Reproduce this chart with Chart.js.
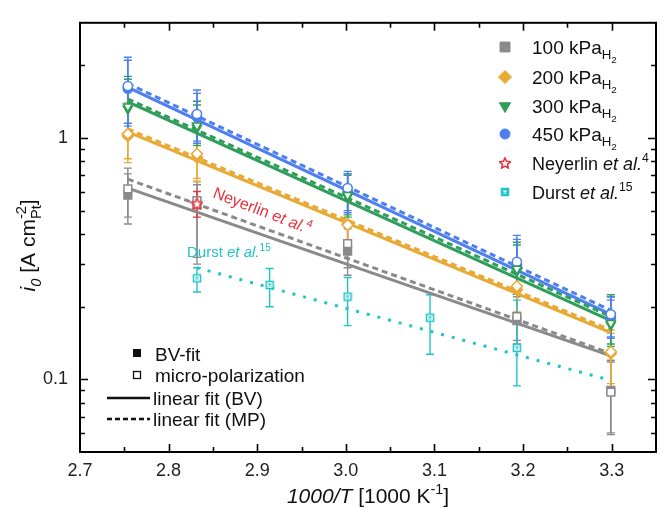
<!DOCTYPE html>
<html><head><meta charset="utf-8">
<script src="https://cdn.jsdelivr.net/npm/chart.js@4/dist/chart.umd.min.js"></script>
<style>html,body{margin:0;padding:0;background:#fff}#wrap{width:664px;height:508px}</style>
</head><body><div id="wrap"><canvas id="c" width="664" height="508"></canvas></div>
<script>
// ---------- data ----------
const invT = [2.754, 2.832, 3.002, 3.193, 3.299];
const fitX = [2.754, 3.299];

const p100BV = [0.58, 0.53, 0.34, 0.175, 0.090];
const p100MP = [0.615, 0.55, 0.365, 0.182, 0.0886];
const p100BVhi = [0.71, 0.64, 0.42, 0.22, 0.118];
const p100BVlo = [0.47, 0.32, 0.27, 0.14, 0.060];
const p100MPhi = [0.75, 0.66, 0.44, 0.23, 0.120];
const p100MPlo = [0.44, 0.30, 0.29, 0.145, 0.059];

const p200BV = [1.02, 0.83, 0.44, 0.235, 0.128];
const p200MP = [1.04, 0.86, 0.436, 0.243, 0.130];
const p200BVhi = [1.35, 1.10, 0.55, 0.30, 0.155];
const p200BVlo = [0.82, 0.68, 0.36, 0.19, 0.096];
const p200MPhi = [1.40, 1.15, 0.56, 0.31, 0.160];
const p200MPlo = [0.79, 0.66, 0.35, 0.185, 0.093];

const p300BV = [1.32, 1.10, 0.57, 0.28, 0.168];
const p300MP = [1.35, 1.126, 0.58, 0.287, 0.171];
const p300BVhi = [1.75, 1.37, 0.70, 0.36, 0.220];
const p300BVlo = [1.00, 0.95, 0.48, 0.23, 0.140];
const p300MPhi = [1.80, 1.42, 0.71, 0.37, 0.224];
const p300MPlo = [1.00, 0.93, 0.47, 0.225, 0.137];

const p450BV = [1.60, 1.22, 0.60, 0.30, 0.180];
const p450MP = [1.64, 1.256, 0.62, 0.307, 0.186];
const p450BVhi = [2.10, 1.53, 0.71, 0.38, 0.213];
const p450BVlo = [1.15, 0.97, 0.50, 0.23, 0.150];
const p450MPhi = [2.16, 1.58, 0.727, 0.395, 0.220];
const p450MPlo = [1.12, 0.95, 0.49, 0.225, 0.148];

const fit100BV = [0.62, 0.125], fit100MP = [0.675, 0.128];
const fit200BV = [1.06, 0.156], fit200MP = [1.09, 0.160];
const fit300BV = [1.41, 0.175], fit300MP = [1.45, 0.182];
const fit450BV = [1.62, 0.186], fit450MP = [1.68, 0.193];

const neyX = [2.832], neyY = [0.534], neyHi = [0.60], neyLo = [0.47];

const durstX = [2.832, 2.914, 3.002, 3.095, 3.193];
const durstY = [0.262, 0.246, 0.220, 0.180, 0.135];
const durstHi = [0.290, 0.288, 0.264, 0.224, 0.213];
const durstLo = [0.230, 0.200, 0.167, 0.127, 0.094];
const durstFitX = [2.832, 3.299];
const durstFitY = [0.290, 0.099];

const xTickVals = [2.7,2.75,2.8,2.85,2.9,2.95,3.0,3.05,3.1,3.15,3.2,3.25,3.3,3.35];
const yTickVals = [0.06,0.07,0.08,0.09,0.1,0.2,0.3,0.4,0.5,0.6,0.7,0.8,0.9,1,2,3];
const yLabelVals = [0.1, 1];

// ---------- styles ----------
const C = {g:'#8a8a8a', o:'#e9a935', gr:'#2e9e5a', b:'#4d7ef2', r:'#e8323c', cy:'#22c4c6'};
const FONT = '"Liberation Sans", Arial, sans-serif';

function makeStar(color, size){
  const c=document.createElement('canvas'); c.width=c.height=size; const g=c.getContext('2d');
  g.strokeStyle=color; g.lineWidth=1.6; g.fillStyle='#fff'; g.beginPath();
  for(let i=0;i<10;i++){const r=i%2? size*0.22: size*0.46; const a=-Math.PI/2+i*Math.PI/5;
    const x=size/2+r*Math.cos(a), y=size/2+r*Math.sin(a)+size*0.04; i?g.lineTo(x,y):g.moveTo(x,y);}
  g.closePath(); g.fill(); g.stroke(); return c;
}
function makeXSq(color, size, filled){
  const c=document.createElement('canvas'); c.width=c.height=size; const g=c.getContext('2d');
  g.strokeStyle=color; g.lineWidth=1.5; g.fillStyle= filled?color:'#fff';
  g.fillRect(1,1,size-2,size-2); g.strokeRect(1.5,1.5,size-3,size-3);
  g.strokeStyle = filled?'#fff':color;
  g.lineWidth=1.2; g.beginPath(); g.moveTo(3.5,3.5); g.lineTo(size-3.5,size-3.5); g.moveTo(size-3.5,3.5); g.lineTo(3.5,size-3.5); g.stroke();
  return c;
}
const starImg = makeStar(C.r, 13);
const xsqImg = makeXSq(C.cy, 10, false);
const starImgL = makeStar(C.r, 12);
const xsqImgL = makeXSq(C.cy, 10, true);

const pts = (xs, ys) => xs.map((x,i)=>({x, y:ys[i]}));

function scat(vals, color, style, open, hi, lo, rot){
  return {type:'scatter', data:pts(invT, vals), pointStyle:style, rotation:rot||0,
    pointRadius: style==='triangle'?5.2:(style==='rectRot'?5.5:(style==='rect'?5.5:4.6)),
    pointBorderColor:color, pointBackgroundColor: open?'#fff':color, pointBorderWidth:1.5,
    showLine:false, errHi:hi, errLo:lo, errColor:color, order: open?1:2};
}
function fit(vals, color, dashed){
  return {type:'line', data:pts(fitX, vals), borderColor:color, borderWidth:3, pointRadius:0,
    borderDash: dashed?[6,4]:[], fill:false, tension:0, order:3};
}

const datasets = [
  fit(fit100BV, C.g, false), fit(fit100MP, C.g, true),
  fit(fit200BV, C.o, false), fit(fit200MP, C.o, true),
  fit(fit300BV, C.gr, false), fit(fit300MP, C.gr, true),
  fit(fit450BV, C.b, false), fit(fit450MP, C.b, true),
  {type:'line', data:pts(durstFitX, durstFitY), borderColor:C.cy, borderWidth:3, borderDash:[3,8], pointRadius:0, order:3},
  scat(p100BV, C.g, 'rect', false, p100BVhi, p100BVlo),
  scat(p100MP, C.g, 'rect', true, p100MPhi, p100MPlo),
  scat(p200BV, C.o, 'rectRot', false, p200BVhi, p200BVlo),
  scat(p200MP, C.o, 'rectRot', true, p200MPhi, p200MPlo),
  scat(p300BV, C.gr, 'triangle', false, p300BVhi, p300BVlo, 180),
  scat(p300MP, C.gr, 'triangle', true, p300MPhi, p300MPlo, 180),
  scat(p450BV, C.b, 'circle', false, p450BVhi, p450BVlo),
  scat(p450MP, C.b, 'circle', true, p450MPhi, p450MPlo),
  {type:'scatter', data:pts(neyX, neyY), pointStyle:starImg, pointRadius:6, errHi:neyHi, errLo:neyLo, errColor:C.r, order:0},
  {type:'scatter', data:pts(durstX, durstY), pointStyle:xsqImg, pointRadius:5, errHi:durstHi, errLo:durstLo, errColor:C.cy, order:0},
];

function rich(ctx, parts, x, y, base, measureOnly){
  let cx = x;
  for(const p of parts){
    if(p.stack){
      const s = base*0.7;
      ctx.font = `${s}px ${FONT}`;
      const w1 = ctx.measureText(p.stack[0]).width, w2 = ctx.measureText(p.stack[1]).width;
      if(!measureOnly){ ctx.fillText(p.stack[0], cx, y - base*0.42); ctx.fillText(p.stack[1], cx, y + base*0.28); }
      cx += Math.max(w1,w2); continue;
    }
    let s = base, dy = 0;
    if(p.pos==='sup'){ s = base*0.68; dy = -base*0.42; }
    if(p.pos==='sub'){ s = base*0.7; dy = base*0.28; }
    if(p.pos==='sub2'){ s = base*0.52; dy = base*0.46; }
    ctx.font = `${p.it?'italic ':''}${s}px ${FONT}`;
    if(!measureOnly) ctx.fillText(p.t, cx, y+dy);
    cx += ctx.measureText(p.t).width;
  }
  return cx - x;
}

const errPlugin = {id:'err', beforeDatasetsDraw(chart){
  const {ctx, scales:{x, y}} = chart;
  chart.data.datasets.forEach(ds=>{
    if(!ds.errHi) return;
    ctx.save(); ctx.strokeStyle = ds.errColor; ctx.lineWidth = 1.4;
    ds.data.forEach((p,j)=>{
      const px = x.getPixelForValue(p.x), yh = y.getPixelForValue(ds.errHi[j]), yl = y.getPixelForValue(ds.errLo[j]);
      ctx.beginPath(); ctx.moveTo(px,yh); ctx.lineTo(px,yl);
      ctx.moveTo(px-4,yh); ctx.lineTo(px+4,yh); ctx.moveTo(px-4,yl); ctx.lineTo(px+4,yl); ctx.stroke();
    });
    ctx.restore();
  });
}};

const framePlugin = {id:'frame', afterDraw(chart){
  const {ctx, chartArea:a, scales:{x, y}} = chart;
  ctx.save();
  ctx.strokeStyle = '#000'; ctx.lineWidth = 2;
  ctx.strokeRect(a.left, a.top, a.right-a.left, a.bottom-a.top);
  ctx.lineWidth = 1.6;
  ctx.beginPath();
  xTickVals.forEach(v=>{
    const px = Math.round(x.getPixelForValue(v))+0.5; if(px<=a.left+1||px>=a.right-1) return;
    const maj = Math.abs(v*10-Math.round(v*10))<1e-6; const L = maj?8:5;
    ctx.moveTo(px,a.bottom); ctx.lineTo(px,a.bottom-L); ctx.moveTo(px,a.top); ctx.lineTo(px,a.top+L);
  });
  yTickVals.forEach(v=>{
    const py = Math.round(y.getPixelForValue(v))+0.5; if(py<=a.top+1||py>=a.bottom-1) return;
    const maj = yLabelVals.includes(v); const L = maj?8:5;
    ctx.moveTo(a.left,py); ctx.lineTo(a.left+L,py); ctx.moveTo(a.right,py); ctx.lineTo(a.right-L,py);
  });
  ctx.stroke();

  // axis titles
  ctx.fillStyle = '#111'; ctx.textBaseline = 'alphabetic';
  const xt = [{t:'1000/T', it:true},{t:' [1000 K'},{t:'-1',pos:'sup'},{t:']'}];
  const xw = rich(ctx, xt, 0, 0, 21, true);
  rich(ctx, xt, (a.left+a.right)/2 - xw/2, 503, 21);
  const yt = [{t:'i', it:true},{t:'0', it:true, pos:'sub'},{t:' [A cm'},{stack:['-2','Pt']},{t:']'}];
  ctx.save(); ctx.translate(35, (a.top+a.bottom)/2 + 8); ctx.rotate(-Math.PI/2);
  const yw = rich(ctx, yt, 0, 0, 21, true);
  rich(ctx, yt, -yw/2, 0, 21);
  ctx.restore();

  // top-right legend
  const H = Chart.helpers;
  const legItems = [
    {c:C.g, s:'rect', r:7, f:19, t:[{t:'100 kPa'},{t:'H',pos:'sub'},{t:'2',pos:'sub2'}]},
    {c:C.o, s:'rectRot', r:6.5, f:19, t:[{t:'200 kPa'},{t:'H',pos:'sub'},{t:'2',pos:'sub2'}]},
    {c:C.gr, s:'triangle', r:6.5, rot:180, f:19, t:[{t:'300 kPa'},{t:'H',pos:'sub'},{t:'2',pos:'sub2'}]},
    {c:C.b, s:'circle', r:5, f:19, t:[{t:'450 kPa'},{t:'H',pos:'sub'},{t:'2',pos:'sub2'}]},
    {c:C.r, s:starImgL, r:6, f:18, t:[{t:'Neyerlin '},{t:'et al.',it:true},{t:'4',pos:'sup'}]},
    {c:C.cy, s:xsqImgL, r:6, f:18, t:[{t:'Durst '},{t:'et al.',it:true},{t:'15',pos:'sup'}]},
  ];
  const rows = [47, 77, 106, 134, 163, 192];
  legItems.forEach((it,i)=>{
    ctx.fillStyle = it.c; ctx.strokeStyle = it.c; ctx.lineWidth = 1;
    H.drawPoint(ctx, {pointStyle:it.s, radius:it.r, rotation:it.rot||0, borderWidth:1}, 505, rows[i]);
    ctx.fillStyle = '#111';
    rich(ctx, it.t, 532, rows[i]+7, it.f);
  });

  // bottom-left legend
  ctx.fillStyle = '#111'; ctx.strokeStyle = '#111';
  ctx.fillRect(133, 349, 8, 8);
  ctx.lineWidth = 1.3; ctx.strokeRect(133.5, 371.5, 7, 7);
  ctx.font = `19px ${FONT}`;
  ctx.fillText('BV-fit', 155, 361);
  ctx.fillText('micro-polarization', 155, 382);
  ctx.lineWidth = 2.4;
  ctx.beginPath(); ctx.moveTo(107, 398); ctx.lineTo(150, 398); ctx.stroke();
  ctx.setLineDash([5,3]); ctx.beginPath(); ctx.moveTo(107, 419); ctx.lineTo(150, 419); ctx.stroke(); ctx.setLineDash([]);
  ctx.fillText('linear fit (BV)', 153, 405);
  ctx.fillText('linear fit (MP)', 153, 426);

  // annotations
  ctx.save(); ctx.translate(212, 197); ctx.rotate(21*Math.PI/180); ctx.fillStyle = C.r;
  rich(ctx, [{t:'Neyerlin '},{t:'et al.',it:true},{t:'4',pos:'sup'}], 0, 0, 16);
  ctx.restore();
  ctx.fillStyle = C.cy;
  rich(ctx, [{t:'Durst '},{t:'et al.',it:true},{t:'15',pos:'sup'}], 187, 257, 15);
  ctx.restore();
}};

new Chart(document.getElementById('c'), {
  data:{datasets},
  options:{
    responsive:false, animation:false, devicePixelRatio:1,
    layout:{padding:{top:15, right:2, left:0, bottom:0}},
    plugins:{legend:{display:false}, tooltip:{enabled:false}},
    scales:{
      x:{type:'linear', min:2.7, max:3.35,
        afterBuildTicks:s=>{s.ticks = xTickVals.map(v=>({value:v}));},
        afterFit:s=>{s.height = 56;},
        ticks:{autoSkip:false, maxRotation:0, padding:8, color:'#222', font:{family:FONT, size:18},
          callback:v=> Math.abs(v*10-Math.round(v*10))<1e-6 ? v.toFixed(1) : ''},
        grid:{display:false, drawTicks:false}, border:{display:false}},
      y:{type:'logarithmic', min:0.05, max:3,
        afterBuildTicks:s=>{s.ticks = yTickVals.map(v=>({value:v}));},
        afterFit:s=>{s.width = 80;},
        ticks:{autoSkip:false, padding:12, color:'#222', font:{family:FONT, size:18},
          callback:v=> yLabelVals.some(l=>Math.abs(l-v)<1e-9) ? String(v) : ''},
        grid:{display:false, drawTicks:false}, border:{display:false}}
    }
  },
  plugins:[errPlugin, framePlugin]
});
</script></body></html>
